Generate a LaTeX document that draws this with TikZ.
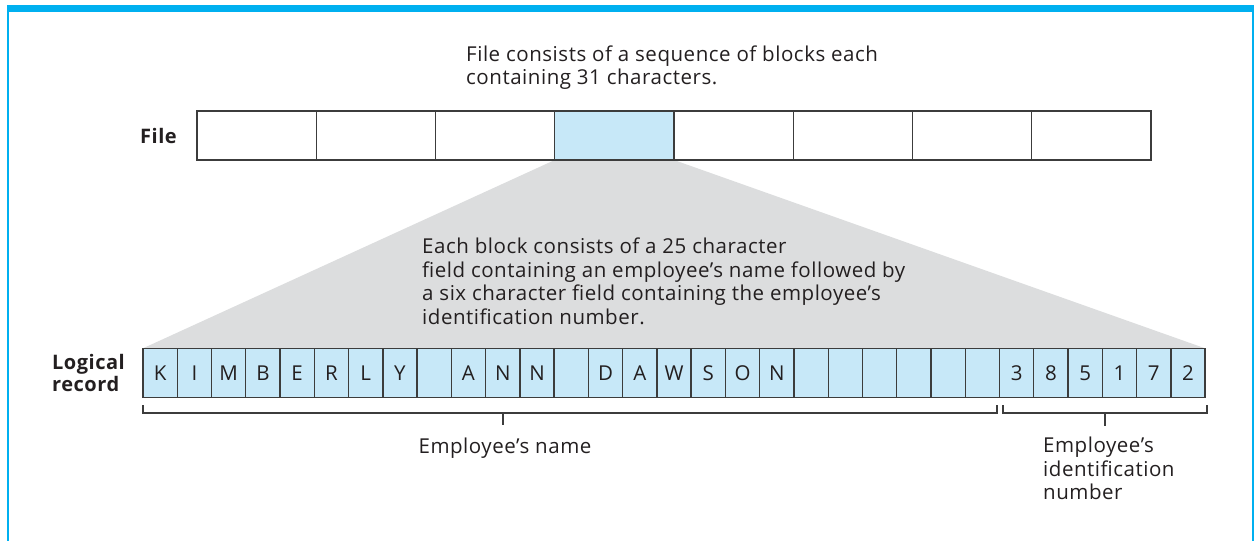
\documentclass[tikz,border=0pt]{standalone}
\usepackage{fontspec}
\setmainfont{Open Sans}[LetterSpace=2.6]
\usetikzlibrary{positioning, backgrounds, calc}
\definecolor{framecyan}{RGB}{0, 176, 240}
\definecolor{cellblue}{RGB}{199, 232, 248}
\definecolor{wedgegray}{RGB}{220, 221, 222}
\definecolor{inkgray}{RGB}{35, 31, 32}
\definecolor{rulegray}{RGB}{60, 60, 60}

\begin{document}
\begin{tikzpicture}[x=1pt, y=-1pt,
            every node/.style={text=inkgray},
            filecell/.style={draw=rulegray, line width=1.4pt, minimum width=119.25pt, minimum height=49pt, inner sep=0pt, outer sep=0pt},
            reccell/.style={draw=rulegray, fill=cellblue, line width=1.4pt, minimum width=34.26pt, minimum height=49pt, inner sep=0pt, outer sep=0pt, font=\fontsize{20.5}{24}\selectfont},
            notetext/.style={align=left, inner sep=0pt, anchor=north west, font=\fontsize{20.5}{23.5}\selectfont},
            rowlabel/.style={align=left, inner sep=0pt, font=\fontsize{20}{21.5}\selectfont\bfseries},
            bracketline/.style={draw=rulegray, line width=1.2pt}
        ]
            \useasboundingbox (0,0) rectangle (1258,541);
            % frame
            \fill[framecyan] (7,5) rectangle (1254,12);
            \fill[framecyan] (7,5) rectangle (9,541);
            \fill[framecyan] (1252,5) rectangle (1254,541);

            % file blocks
            \foreach \tint [count=\i] in {white,white,white,cellblue,white,white,white,white}
                \node[filecell, fill=\tint] (f\i) at ({197+119.25*(\i-0.5)},135.5) {};
            \node[rowlabel, left=20pt of f1] (filelbl) {File};

            \node[notetext] (filenote) at (466,45.5) {File consists of a sequence of blocks each\\containing 31 characters.};

            % logical record
            \foreach \ch [count=\i] in {K,I,M,B,E,R,L,Y,{},A,N,N,{},D,A,W,S,O,N,{},{},{},{},{},{},3,8,5,1,7,2}
                \node[reccell] (r\i) at ({143+34.26*(\i-0.5)},372.8) {\ch};
            \node[rowlabel, left=18pt of r1] (reclbl) {Logical\\record};

            \begin{scope}[on background layer]
                \fill[wedgegray] (f4.south west) -- (f4.south east) -- (r31.north east) -- (r1.north west) -- cycle;
            \end{scope}

            \node[notetext] (blocknote) at (422,238) {Each block consists of a 25 character\\field containing an employee’s name followed by\\a six character field containing the employee’s\\identification number.};

            % brackets
            \coordinate (nameL) at (143,405);
            \coordinate (nameR) at (997,405);
            \coordinate (nameT) at (503,413);
            \coordinate (idL) at (1003,405);
            \coordinate (idR) at (1207,405);
            \coordinate (idT) at (1105,413);
            \draw[bracketline] (nameL) -- ++(0,8) -| (nameR);
            \draw[bracketline] (nameT) -- ++(0,12);
            \draw[bracketline] (idL) -- ++(0,8) -| (idR);
            \draw[bracketline] (idT) -- ++(0,13);

            \node[notetext, anchor=center] (namelbl) at (505,448) {Employee’s name};
            \node[notetext] (idlbl) at (1043,437) {Employee’s\\identification\\number};
        \end{tikzpicture}
\end{document}
